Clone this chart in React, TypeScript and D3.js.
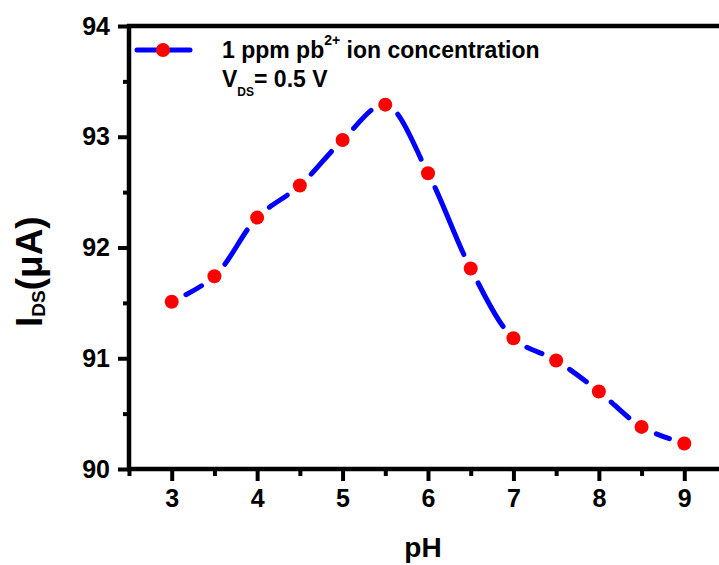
import React, { useEffect, useRef } from "react";
import * as d3 from "d3";

const phValues = [3, 3.5, 4, 4.5, 5, 5.5, 6, 6.5, 7, 7.5, 8, 8.5, 9];
const currentValues = [
  91.51, 91.74, 92.27, 92.56, 92.97, 93.29, 92.67, 91.81, 91.18, 90.98, 90.7,
  90.38, 90.23,
];
const xTicks = [3, 4, 5, 6, 7, 8, 9];
const xMinorTicks = [2.5, 3.5, 4.5, 5.5, 6.5, 7.5, 8.5];
const yTicks = [90, 91, 92, 93, 94];
const yMinorTicks = [90.5, 91.5, 92.5, 93.5];

const App = () => {
  const svgRef = useRef<SVGSVGElement>(null);

  useEffect(() => {
    const width = 719;
    const height = 565;
    const font = "'Liberation Sans', Arial, sans-serif";
    const blue = "#0000ff";
    const red = "#ff0000";

    const svg = d3.select(svgRef.current);
    svg.selectAll("*").remove();
    svg.attr("width", width).attr("height", height);

    svg.append("rect").attr("width", width).attr("height", height).attr("fill", "#fff");

    const x = d3.scaleLinear().domain([2.5, 9.5]).range([129, 727]);
    const y = d3.scaleLinear().domain([90, 94]).range([469, 26]);

    // axes frame (left, bottom, top)
    const frameLine = (x1: number, x2: number, y1: number, y2: number) =>
      svg
        .append("line")
        .attr("x1", x1)
        .attr("x2", x2)
        .attr("y1", y1)
        .attr("y2", y2)
        .style("stroke", "#000")
        .style("stroke-width", "4.5px");
    frameLine(x(2.5), x(2.5), y(94) - 2, y(90) + 2);
    frameLine(x(2.5) - 2, width, y(90), y(90));
    frameLine(x(2.5) - 2, width, y(94), y(94));

    const tickStyle = (g: d3.Selection<SVGGElement, unknown, null, undefined>) => {
      g.select(".domain").remove();
      g.selectAll(".tick line").style("stroke", "#000").style("stroke-width", "4px");
      g.selectAll(".tick text")
        .attr("fill", "#000")
        .style("font-family", font)
        .style("font-weight", "bold")
        .style("font-size", "25px");
    };

    svg
      .append("g")
      .attr("transform", `translate(0,${y(90)})`)
      .call(d3.axisBottom(x).tickValues(xTicks).tickSize(12).tickPadding(8).tickFormat(d3.format("d")))
      .call(tickStyle);
    svg
      .append("g")
      .attr("transform", `translate(0,${y(90)})`)
      .call(d3.axisBottom(x).tickValues(xMinorTicks).tickSize(7).tickFormat(() => ""))
      .call(tickStyle);
    svg
      .append("g")
      .attr("transform", `translate(${x(2.5)},0)`)
      .call(d3.axisLeft(y).tickValues(yTicks).tickSize(11).tickPadding(8).tickFormat(d3.format("d")))
      .call(tickStyle);
    svg
      .append("g")
      .attr("transform", `translate(${x(2.5)},0)`)
      .call(d3.axisLeft(y).tickValues(yMinorTicks).tickSize(6).tickFormat(() => ""))
      .call(tickStyle);

    // axis titles
    svg
      .append("text")
      .attr("x", 423)
      .attr("y", 557)
      .attr("text-anchor", "middle")
      .style("font-family", font)
      .style("font-weight", "bold")
      .style("font-size", "28px")
      .text("pH");

    const yTitle = svg
      .append("text")
      .attr("transform", "translate(42,327) rotate(-90)")
      .style("font-family", font)
      .style("font-weight", "bold")
      .style("font-size", "37px");
    yTitle.append("tspan").text("I");
    yTitle.append("tspan").attr("dy", 3).style("font-size", "19px").text("DS");
    yTitle.append("tspan").attr("dy", -3).text("(μA)");

    // curve with gaps around symbols
    const pts = phValues.map((p, i) => [x(p), y(currentValues[i])] as [number, number]);
    const line = d3.line().curve(d3.curveCatmullRom.alpha(0.5));
    const path = svg
      .append("path")
      .attr("d", line(pts))
      .attr("fill", "none")
      .attr("stroke", blue)
      .attr("stroke-width", 5)
      .attr("stroke-linecap", "round");

    const node = path.node() as SVGPathElement;
    const total = node.getTotalLength();
    const lengthAt = (px: number) => {
      let lo = 0;
      let hi = total;
      for (let k = 0; k < 40; k++) {
        const mid = (lo + hi) / 2;
        if (node.getPointAtLength(mid).x < px) lo = mid;
        else hi = mid;
      }
      return (lo + hi) / 2;
    };
    const lens = pts.map((p, i) => (i === 0 ? 0 : i === pts.length - 1 ? total : lengthAt(p[0])));
    const g = 16;
    const dash: number[] = [0, g];
    for (let i = 1; i < lens.length; i++) {
      const seg = lens[i] - lens[i - 1];
      dash.push(Math.max(seg - 2 * g, 0));
      dash.push(i === lens.length - 1 ? g + 20 : 2 * g);
    }
    path.attr("stroke-dasharray", dash.join(" "));

    svg
      .append("g")
      .selectAll("circle")
      .data(pts)
      .join("circle")
      .attr("cx", (d) => d[0])
      .attr("cy", (d) => d[1])
      .attr("r", 7)
      .attr("fill", red);

    // legend
    const leg = svg.append("g");
    leg.append("line").attr("x1", 137).attr("x2", 156).attr("y1", 50).attr("y2", 50)
      .attr("stroke", blue).attr("stroke-width", 5).attr("stroke-linecap", "round");
    leg.append("line").attr("x1", 170).attr("x2", 190).attr("y1", 50).attr("y2", 50)
      .attr("stroke", blue).attr("stroke-width", 5).attr("stroke-linecap", "round");
    leg.append("circle").attr("cx", 163).attr("cy", 50).attr("r", 7).attr("fill", red);

    const t1 = leg
      .append("text")
      .attr("x", 222)
      .attr("y", 58)
      .style("font-family", font)
      .style("font-weight", "bold")
      .style("font-size", "23px");
    t1.append("tspan").text("1 ppm pb");
    t1.append("tspan").attr("dy", -13).style("font-size", "14px").text("2+");
    t1.append("tspan").attr("dy", 13).text(" ion concentration");

    const t2 = leg
      .append("text")
      .attr("x", 222)
      .attr("y", 87)
      .style("font-family", font)
      .style("font-weight", "bold")
      .style("font-size", "23px");
    t2.append("tspan").text("V");
    t2.append("tspan").attr("dy", 9).style("font-size", "12px").text("DS");
    t2.append("tspan").attr("dy", -9).text("= 0.5 V");
  }, []);

  return <svg ref={svgRef} style={{ position: "absolute", left: 0, top: 0 }}></svg>;
};

export default App;
